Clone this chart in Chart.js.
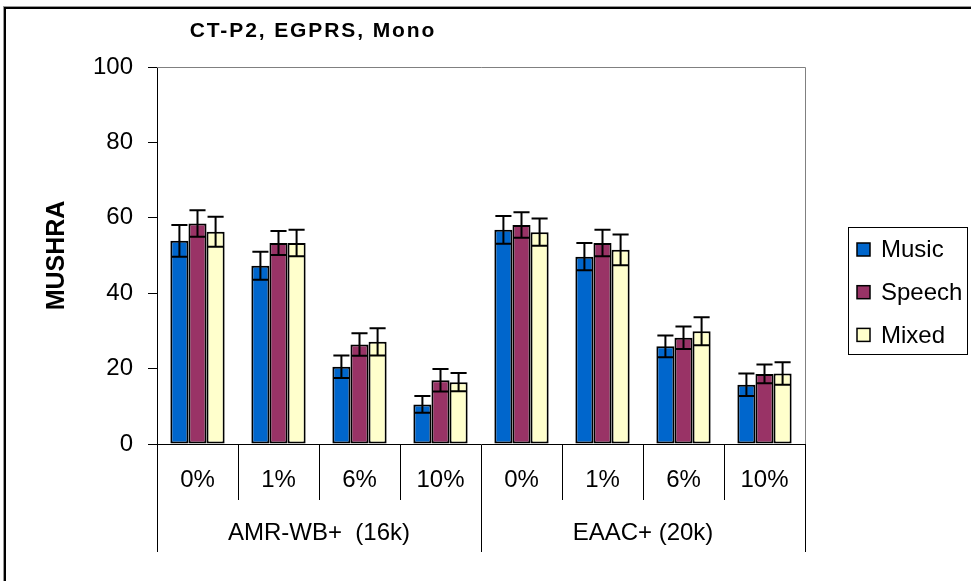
<!DOCTYPE html>
<html>
<head>
<meta charset="utf-8">
<script src="https://cdn.jsdelivr.net/npm/chart.js"></script>
<style>
  body { margin: 0; background: #fff; }
  canvas { display: block; }
</style>
</head>
<body>
<canvas id="myChart" width="971" height="581"></canvas>
<script>
var categories = ['0%', '1%', '6%', '10%', '0%', '1%', '6%', '10%'];
var groups = ['AMR-WB+  (16k)', 'EAAC+ (20k)'];
var seriesNames = ['Music', 'Speech', 'Mixed'];
var music = [53.9, 47.3, 20.5, 10.5, 56.8, 49.7, 25.9, 15.7];
var speech = [58.5, 53.3, 26.4, 16.9, 58.1, 53.3, 28.2, 18.6];
var mixed = [56.3, 53.3, 27.1, 16.4, 56.2, 51.5, 29.9, 18.7];
var musicErr = [4.2, 3.7, 3.0, 2.2, 3.7, 3.6, 2.9, 3.0];
var speechErr = [3.5, 3.2, 3.0, 3.0, 3.4, 3.5, 3.0, 2.5];
var mixedErr = [4.0, 3.5, 3.6, 2.4, 3.6, 4.1, 3.7, 3.0];
var yTicks = [0, 20, 40, 60, 80, 100];

var colors = ['#0066cc', '#993366', '#ffffcc'];
var FONT = "'Liberation Sans', Arial, sans-serif";

Chart.defaults.font.family = FONT;
Chart.defaults.color = '#000';

var ctx = document.getElementById('myChart').getContext('2d');

// frame, plot border, title, legend box
var decorations = {
  id: 'decorations',
  beforeDraw: function(chart) {
    var c = chart.ctx;
    c.save();
    c.fillStyle = '#fff';
    c.fillRect(0, 0, chart.width, chart.height);
    c.fillStyle = '#999';
    c.fillRect(3, 6, chart.width, 3);
    c.fillRect(3, 6, 3, chart.height);
    c.fillStyle = '#000';
    c.fillRect(4, 7, chart.width, 2);
    c.fillRect(4, 7, 2, chart.height);
    c.restore();
  },
  beforeDatasetsDraw: function(chart) {
    var a = chart.chartArea;
    var c = chart.ctx;
    c.save();
    c.strokeStyle = '#808080';
    c.lineWidth = 1;
    c.beginPath();
    c.moveTo(a.left, a.top + 0.5);
    c.lineTo(a.right + 0.5, a.top + 0.5);
    c.lineTo(a.right + 0.5, a.bottom);
    c.stroke();
    c.restore();
  },
  afterDraw: function(chart) {
    var c = chart.ctx;
    c.save();
    // title
    c.fillStyle = '#000';
    c.font = 'bold 21px ' + FONT;
    c.letterSpacing = '1.9px';
    c.textAlign = 'center';
    c.textBaseline = 'middle';
    c.fillText('CT-P2, EGPRS, Mono', 313, 31);
    c.letterSpacing = '0px';

    // legend
    c.strokeStyle = '#000';
    c.lineWidth = 1;
    c.strokeRect(848.5, 227.5, 119, 127);
    var ds = chart.data.datasets;
    c.font = '24px ' + FONT;
    c.textAlign = 'left';
    for (var i = 0; i < ds.length; i++) {
      var cy = 249.5 + i * 42.7;
      c.fillStyle = ds[i].backgroundColor;
      c.fillRect(857, cy - 6.5, 13, 13);
      c.lineWidth = 1.5;
      c.strokeRect(857, cy - 6.5, 13, 13);
      c.fillStyle = '#000';
      c.fillText(ds[i].label, 881, cy + 1);
    }
    c.restore();
  }
};

// error bars from the series arrays
var errorBars = {
  id: 'errorBars',
  afterDatasetsDraw: function(chart) {
    var c = chart.ctx;
    var y = chart.scales.y;
    c.save();
    c.strokeStyle = '#000';
    c.lineWidth = 2;
    chart.data.datasets.forEach(function(ds, i) {
      var meta = chart.getDatasetMeta(i);
      meta.data.forEach(function(bar, j) {
        var v = ds.data[j];
        var e = ds.errors[j];
        var top = y.getPixelForValue(v + e);
        var bot = y.getPixelForValue(v - e);
        var half = bar.width / 2 - 1;
        c.beginPath();
        c.moveTo(bar.x, top);
        c.lineTo(bar.x, bot);
        c.moveTo(bar.x - half, top);
        c.lineTo(bar.x + half, top);
        c.moveTo(bar.x - half, bot);
        c.lineTo(bar.x + half, bot);
        c.stroke();
      });
    });
    c.restore();
  }
};

var myChart = new Chart(ctx, {
  type: 'bar',
  data: {
    labels: categories,
    datasets: [
      { label: seriesNames[0], data: music, errors: musicErr, backgroundColor: colors[0] },
      { label: seriesNames[1], data: speech, errors: speechErr, backgroundColor: colors[1] },
      { label: seriesNames[2], data: mixed, errors: mixedErr, backgroundColor: colors[2] }
    ]
  },
  options: {
    responsive: false,
    animation: false,
    layout: { padding: { left: 0, right: 166, top: 67, bottom: 17 } },
    datasets: {
      bar: {
        borderColor: '#000',
        borderWidth: 2,
        borderSkipped: false,
        categoryPercentage: 0.67,
        barPercentage: 1.0
      }
    },
    plugins: {
      legend: { display: false },
      tooltip: { enabled: false }
    },
    scales: {
      y: {
        min: 0,
        max: 100,
        afterBuildTicks: function(axis) {
          axis.ticks = yTicks.map(function(v) { return { value: v }; });
        },
        afterFit: function(s) { s.width = 157; },
        ticks: { font: { size: 24 }, padding: 15 },
        grid: { drawOnChartArea: false, tickLength: 9, color: '#000' },
        border: { color: '#000', width: 1 },
        title: {
          display: true,
          text: 'MUSHRA',
          font: { size: 25, weight: 'bold' },
          padding: { top: 42, bottom: 0 }
        }
      },
      x: {
        position: 'bottom',
        afterFit: function(s) { s.height = 56; },
        ticks: { font: { size: 24 }, padding: -34, maxRotation: 0, autoSkip: false },
        grid: { offset: true, drawOnChartArea: false, tickLength: 56, color: '#000' },
        border: { color: '#000', width: 1 }
      },
      x2: {
        type: 'category',
        position: 'bottom',
        labels: groups,
        offset: true,
        afterFit: function(s) { s.height = 64; },
        ticks: { font: { size: 24 }, padding: -33, maxRotation: 0, autoSkip: false },
        grid: { offset: true, drawOnChartArea: false, tickLength: 52, color: '#000' },
        border: { display: false }
      }
    }
  },
  plugins: [decorations, errorBars]
});
</script>
</body>
</html>
